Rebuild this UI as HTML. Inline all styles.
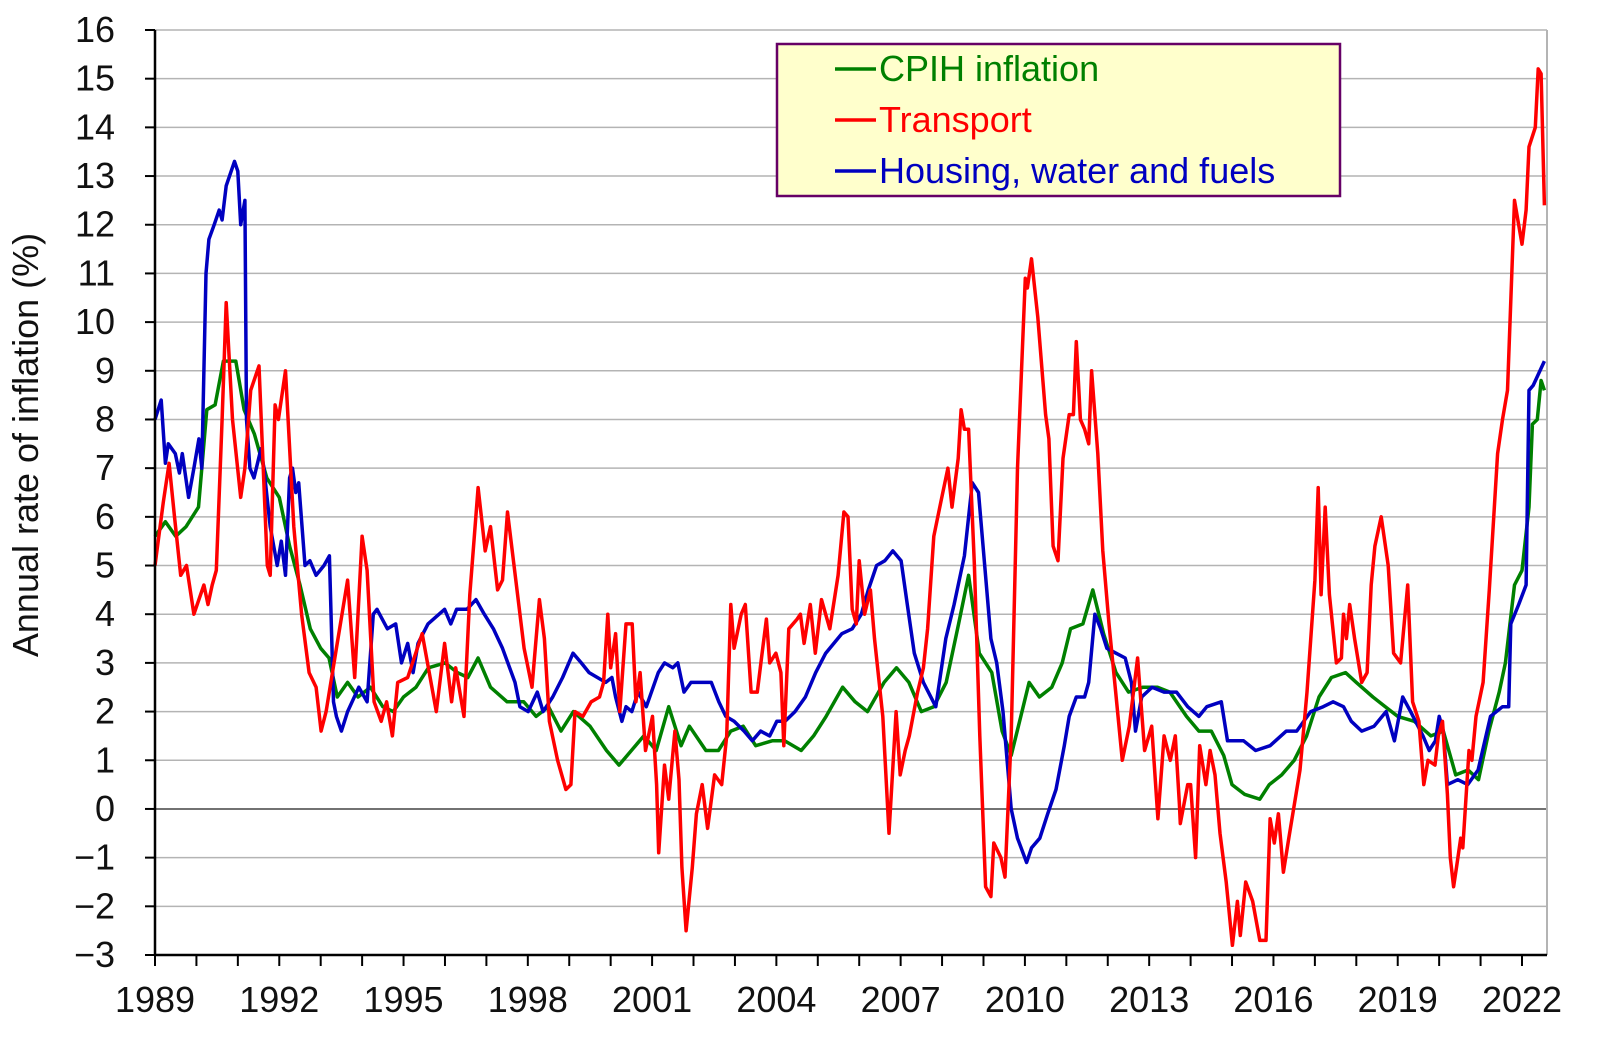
<!DOCTYPE html>
<html><head><meta charset="utf-8">
<style>
html,body{margin:0;padding:0;background:#fff;}
svg{display:block;font-family:"Liberation Sans",Arial,sans-serif;}
</style></head>
<body>
<svg id="chart" width="1600" height="1064" viewBox="0 0 1600 1064" xmlns="http://www.w3.org/2000/svg">
<g id="grid"></g>
<g id="series"></g>
<g id="axes"></g>
<text transform="translate(38,445) rotate(-90)" text-anchor="middle" font-size="36" fill="#111">Annual rate of inflation (%)</text>
<g>
<rect x="777" y="44" width="563" height="152" fill="#ffffcc" stroke="#660066" stroke-width="2.5"/>
<g><line x1="835" y1="69" x2="876" y2="69" stroke="#008000" stroke-width="3.5"/><text x="879" y="81" font-size="36" fill="#008000">CPIH inflation</text></g>
<g><line x1="835" y1="120" x2="876" y2="120" stroke="#ff0000" stroke-width="3.5"/><text x="879" y="132" font-size="36" fill="#ff0000">Transport</text></g>
<g><line x1="835" y1="171" x2="876" y2="171" stroke="#0000c0" stroke-width="3.5"/><text x="879" y="183" font-size="36" fill="#0000c0">Housing, water and fuels</text></g>
</g>
</svg>
<script>
const yTicks=[-3,-2,-1,0,1,2,3,4,5,6,7,8,9,10,11,12,13,14,15,16];
const yTickLabels=["\u22123","\u22122","\u22121","0","1","2","3","4","5","6","7","8","9","10","11","12","13","14","15","16"];
const xLabelYears=[1989,1992,1995,1998,2001,2004,2007,2010,2013,2016,2019,2022];
const cpihDates=[1989.0,1989.25,1989.5,1989.75,1990.05,1990.25,1990.45,1990.65,1990.95,1991.15,1991.4,1991.7,1992.0,1992.25,1992.5,1992.75,1993.0,1993.2,1993.4,1993.65,1993.9,1994.2,1994.5,1994.75,1995.0,1995.3,1995.6,1996.0,1996.3,1996.55,1996.8,1997.1,1997.5,1997.9,1998.2,1998.5,1998.8,1999.1,1999.5,1999.9,2000.2,2000.5,2000.8,2001.1,2001.4,2001.7,2001.9,2002.3,2002.6,2002.9,2003.2,2003.5,2003.9,2004.2,2004.6,2004.9,2005.2,2005.6,2005.9,2006.2,2006.6,2006.9,2007.2,2007.5,2007.8,2008.1,2008.4,2008.64,2008.9,2009.2,2009.45,2009.67,2009.9,2010.1,2010.35,2010.65,2010.9,2011.1,2011.4,2011.64,2011.9,2012.2,2012.5,2012.85,2013.2,2013.5,2013.9,2014.2,2014.5,2014.8,2015.0,2015.3,2015.67,2015.9,2016.2,2016.5,2016.8,2017.1,2017.4,2017.74,2018.0,2018.4,2018.7,2019.0,2019.4,2019.8,2020.1,2020.4,2020.7,2020.95,2021.2,2021.45,2021.6,2021.82,2022.0,2022.17,2022.25,2022.37,2022.46,2022.54];
const cpihValues=[5.6,5.9,5.6,5.8,6.2,8.2,8.3,9.2,9.2,8.2,7.7,6.8,6.4,5.4,4.6,3.7,3.3,3.1,2.3,2.6,2.3,2.5,2.1,2.0,2.3,2.5,2.9,3.0,2.8,2.7,3.1,2.5,2.2,2.2,1.9,2.1,1.6,2.0,1.7,1.2,0.9,1.2,1.5,1.2,2.1,1.3,1.7,1.2,1.2,1.6,1.7,1.3,1.4,1.4,1.2,1.5,1.9,2.5,2.2,2.0,2.6,2.9,2.6,2.0,2.1,2.6,3.8,4.8,3.2,2.8,1.6,1.1,1.9,2.6,2.3,2.5,3.0,3.7,3.8,4.5,3.6,2.8,2.4,2.5,2.5,2.4,1.9,1.6,1.6,1.1,0.5,0.3,0.2,0.5,0.7,1.0,1.5,2.3,2.7,2.8,2.6,2.3,2.1,1.9,1.8,1.5,1.6,0.7,0.8,0.6,1.6,2.4,3.0,4.6,4.9,6.2,7.9,8.0,8.8,8.6];
const transportDates=[1989.0,1989.2,1989.34,1989.47,1989.62,1989.76,1989.94,1990.06,1990.18,1990.28,1990.38,1990.48,1990.62,1990.72,1990.87,1991.07,1991.17,1991.31,1991.51,1991.71,1991.78,1991.9,1991.98,1992.15,1992.35,1992.54,1992.72,1992.89,1993.01,1993.13,1993.38,1993.65,1993.82,1994.0,1994.12,1994.29,1994.46,1994.59,1994.73,1994.86,1995.1,1995.45,1995.79,1995.99,1996.16,1996.26,1996.46,1996.6,1996.8,1996.97,1997.1,1997.27,1997.39,1997.51,1997.71,1997.91,1998.1,1998.28,1998.4,1998.52,1998.72,1998.92,1999.04,1999.14,1999.33,1999.53,1999.73,1999.83,1999.93,2000.0,2000.12,2000.22,2000.37,2000.52,2000.61,2000.71,2000.84,2001.01,2001.11,2001.16,2001.3,2001.4,2001.55,2001.65,2001.72,2001.82,2001.97,2002.07,2002.21,2002.34,2002.51,2002.68,2002.8,2002.9,2002.98,2003.15,2003.25,2003.39,2003.54,2003.64,2003.76,2003.84,2003.99,2004.11,2004.18,2004.3,2004.5,2004.58,2004.67,2004.82,2004.94,2005.09,2005.29,2005.49,2005.63,2005.73,2005.83,2005.93,2006.0,2006.13,2006.27,2006.37,2006.57,2006.72,2006.89,2006.99,2007.11,2007.21,2007.41,2007.55,2007.65,2007.8,2007.97,2008.14,2008.24,2008.39,2008.46,2008.54,2008.64,2008.78,2008.91,2009.05,2009.18,2009.25,2009.42,2009.52,2009.67,2009.82,2010.01,2010.06,2010.16,2010.31,2010.5,2010.58,2010.68,2010.8,2010.92,2011.07,2011.17,2011.24,2011.34,2011.44,2011.54,2011.61,2011.76,2011.88,2012.03,2012.18,2012.35,2012.52,2012.72,2012.89,2013.06,2013.21,2013.36,2013.51,2013.63,2013.73,2013.75,2013.93,2014.0,2014.12,2014.22,2014.37,2014.47,2014.59,2014.71,2014.86,2015.01,2015.13,2015.2,2015.33,2015.5,2015.67,2015.82,2015.92,2016.02,2016.12,2016.24,2016.37,2016.64,2016.81,2017.0,2017.08,2017.15,2017.25,2017.35,2017.52,2017.64,2017.69,2017.76,2017.84,2017.96,2018.13,2018.26,2018.36,2018.45,2018.6,2018.77,2018.9,2019.07,2019.24,2019.36,2019.51,2019.63,2019.73,2019.9,2019.98,2020.08,2020.2,2020.27,2020.35,2020.42,2020.52,2020.57,2020.72,2020.79,2020.89,2021.06,2021.21,2021.41,2021.53,2021.65,2021.82,2022.0,2022.1,2022.17,2022.32,2022.39,2022.46,2022.54];
const transportValues=[5.0,6.3,7.1,6.0,4.8,5.0,4.0,4.3,4.6,4.2,4.6,4.9,8.0,10.4,8.0,6.4,7.0,8.6,9.1,5.0,4.8,8.3,8.0,9.0,5.8,4.0,2.8,2.5,1.6,2.0,3.3,4.7,2.7,5.6,4.9,2.2,1.8,2.2,1.5,2.6,2.7,3.6,2.0,3.4,2.2,2.9,1.9,4.4,6.6,5.3,5.8,4.5,4.7,6.1,4.7,3.3,2.5,4.3,3.5,1.8,1.0,0.4,0.5,2.0,1.9,2.2,2.3,2.6,4.0,2.9,3.6,2.0,3.8,3.8,2.2,2.8,1.2,1.9,0.5,-0.9,0.9,0.2,1.6,0.6,-1.2,-2.5,-1.2,-0.1,0.5,-0.4,0.7,0.5,1.5,4.2,3.3,4.0,4.2,2.4,2.4,3.1,3.9,3.0,3.2,2.8,1.3,3.7,3.9,4.0,3.4,4.2,3.2,4.3,3.7,4.8,6.1,6.0,4.1,3.8,5.1,4.0,4.5,3.5,1.9,-0.5,2.0,0.7,1.2,1.5,2.4,2.9,3.7,5.6,6.3,7.0,6.2,7.2,8.2,7.8,7.8,5.0,1.5,-1.6,-1.8,-0.7,-1.0,-1.4,1.5,7.0,10.9,10.7,11.3,10.1,8.1,7.6,5.4,5.1,7.2,8.1,8.1,9.6,8.0,7.8,7.5,9.0,7.3,5.3,3.8,2.5,1.0,1.7,3.1,1.2,1.7,-0.2,1.5,1.0,1.5,0.1,-0.3,0.5,0.5,-1.0,1.3,0.5,1.2,0.7,-0.5,-1.5,-2.8,-1.9,-2.6,-1.5,-1.9,-2.7,-2.7,-0.2,-0.7,-0.1,-1.3,-0.6,0.8,2.4,4.7,6.6,4.4,6.2,4.4,3.0,3.1,4.0,3.5,4.2,3.5,2.6,2.8,4.6,5.4,6.0,5.0,3.2,3.0,4.6,2.2,1.8,0.5,1.0,0.9,1.5,1.8,0.3,-1.0,-1.6,-1.2,-0.6,-0.8,1.2,1.0,1.9,2.6,4.5,7.3,8.0,8.6,12.5,11.6,12.3,13.6,14.0,15.2,15.1,12.4];
const housingDates=[1989.0,1989.15,1989.25,1989.32,1989.49,1989.59,1989.66,1989.81,1989.94,1990.06,1990.13,1990.23,1990.3,1990.43,1990.55,1990.62,1990.72,1990.92,1991.0,1991.07,1991.17,1991.21,1991.29,1991.39,1991.56,1991.63,1991.78,1991.95,1992.05,1992.15,1992.25,1992.32,1992.4,1992.47,1992.62,1992.74,1992.89,1993.08,1993.21,1993.31,1993.38,1993.5,1993.65,1993.92,1994.12,1994.27,1994.36,1994.61,1994.81,1994.95,1995.1,1995.23,1995.35,1995.59,1995.99,1996.14,1996.28,1996.53,1996.75,1996.95,1997.17,1997.39,1997.69,1997.81,1998.01,1998.23,1998.37,1998.6,1998.84,1999.09,1999.29,1999.48,1999.68,1999.88,2000.03,2000.12,2000.27,2000.37,2000.51,2000.66,2000.86,2001.15,2001.3,2001.5,2001.62,2001.77,2001.94,2002.24,2002.43,2002.61,2002.78,2002.98,2003.22,2003.42,2003.62,2003.84,2004.01,2004.21,2004.45,2004.7,2004.95,2005.19,2005.58,2005.83,2006.05,2006.22,2006.42,2006.62,2006.81,2007.01,2007.16,2007.33,2007.55,2007.85,2008.09,2008.29,2008.54,2008.73,2008.88,2009.03,2009.18,2009.32,2009.47,2009.67,2009.82,2010.04,2010.16,2010.36,2010.55,2010.75,2010.95,2011.07,2011.24,2011.44,2011.54,2011.69,2011.83,2011.98,2012.2,2012.42,2012.57,2012.67,2012.82,2013.07,2013.36,2013.66,2013.93,2014.2,2014.39,2014.74,2014.89,2015.28,2015.57,2015.92,2016.31,2016.56,2016.9,2017.2,2017.44,2017.69,2017.88,2018.13,2018.43,2018.72,2018.92,2019.12,2019.31,2019.61,2019.76,2019.91,2020.0,2020.1,2020.2,2020.45,2020.69,2020.94,2021.24,2021.53,2021.68,2021.73,2021.92,2022.1,2022.17,2022.27,2022.54];
const housingValues=[8.0,8.4,7.1,7.5,7.3,6.9,7.3,6.4,7.0,7.6,7.0,11.0,11.7,12.0,12.3,12.1,12.8,13.3,13.1,12.0,12.5,8.0,7.0,6.8,7.4,7.0,5.8,5.0,5.5,4.8,6.8,7.0,6.5,6.7,5.0,5.1,4.8,5.0,5.2,2.2,1.9,1.6,2.0,2.5,2.2,4.0,4.1,3.7,3.8,3.0,3.4,2.8,3.4,3.8,4.1,3.8,4.1,4.1,4.3,4.0,3.7,3.3,2.6,2.1,2.0,2.4,2.0,2.3,2.7,3.2,3.0,2.8,2.7,2.6,2.7,2.3,1.8,2.1,2.0,2.4,2.1,2.8,3.0,2.9,3.0,2.4,2.6,2.6,2.6,2.2,1.9,1.8,1.6,1.4,1.6,1.5,1.8,1.8,2.0,2.3,2.8,3.2,3.6,3.7,4.0,4.5,5.0,5.1,5.3,5.1,4.2,3.2,2.6,2.1,3.5,4.2,5.2,6.7,6.5,5.0,3.5,3.0,2.0,0.0,-0.6,-1.1,-0.8,-0.6,-0.1,0.4,1.3,1.9,2.3,2.3,2.6,4.0,3.7,3.3,3.2,3.1,2.6,1.6,2.3,2.5,2.4,2.4,2.1,1.9,2.1,2.2,1.4,1.4,1.2,1.3,1.6,1.6,2.0,2.1,2.2,2.1,1.8,1.6,1.7,2.0,1.4,2.3,2.0,1.5,1.2,1.4,1.9,1.6,0.5,0.6,0.5,0.8,1.9,2.1,2.1,3.8,4.2,4.6,8.6,8.7,9.2];

const X0=155, X1=1547, Y16=30, Ym3=955, YEAR0=1989, PXY=(1522-155)/33;
const xs=t=>X0+(t-YEAR0)*PXY;
const ys=v=>Y16+(16-v)*(Ym3-Y16)/19;
const NS='http://www.w3.org/2000/svg';
function mk(tag,attrs,parent){const e=document.createElementNS(NS,tag);for(const k in attrs)e.setAttribute(k,attrs[k]);parent.appendChild(e);return e;}
const grid=document.getElementById('grid'), axes=document.getElementById('axes'), series=document.getElementById('series');
yTicks.forEach((v,i)=>{
  if(v>-3){const g=mk('line',{x1:X0,x2:X1,y1:ys(v),y2:ys(v),stroke:v===0?'#444':'#b4b4b4','stroke-width':1.5},grid);
  
  }
  const t=mk('line',{x1:X0-10,x2:X0,y1:ys(v),y2:ys(v),stroke:'#000','stroke-width':2},axes);
  
  
  const l=mk('text',{x:X0-40,y:ys(v)+12,'text-anchor':'end','font-size':36,fill:'#111'},axes);
  l.textContent=yTickLabels[i];
  
  
});
const rb=mk('line',{x1:X1,x2:X1,y1:Y16,y2:Ym3,stroke:'#b4b4b4','stroke-width':2},grid);


for(let y=YEAR0;y<=2022;y++){
  const t=mk('line',{x1:xs(y),x2:xs(y),y1:Ym3,y2:Ym3+11,stroke:'#000','stroke-width':2},axes);
  
  
}
xLabelYears.forEach(y=>{
  const l=mk('text',{x:xs(y),y:1012,'text-anchor':'middle','font-size':36,fill:'#111'},axes);
  l.textContent=y;
  
  
});
const ya=mk('line',{x1:X0,x2:X0,y1:Y16,y2:Ym3+1,stroke:'#000','stroke-width':2.5},axes);


const xa=mk('line',{x1:X0,x2:X1,y1:Ym3,y2:Ym3,stroke:'#000','stroke-width':2.5},axes);


function drawLine(d,v,color,name){
  const pts=d.map((t,i)=>xs(t).toFixed(1)+','+ys(v[i]).toFixed(1)).join(' ');
  const p=mk('polyline',{points:pts,fill:'none',stroke:color,'stroke-width':3.5,'stroke-linejoin':'round'},series);
  
  
}
drawLine(cpihDates,cpihValues,'#008000','cpih-line');
drawLine(housingDates,housingValues,'#0000c0','housing-line');
drawLine(transportDates,transportValues,'#ff0000','transport-line');
</script>
</body></html>
